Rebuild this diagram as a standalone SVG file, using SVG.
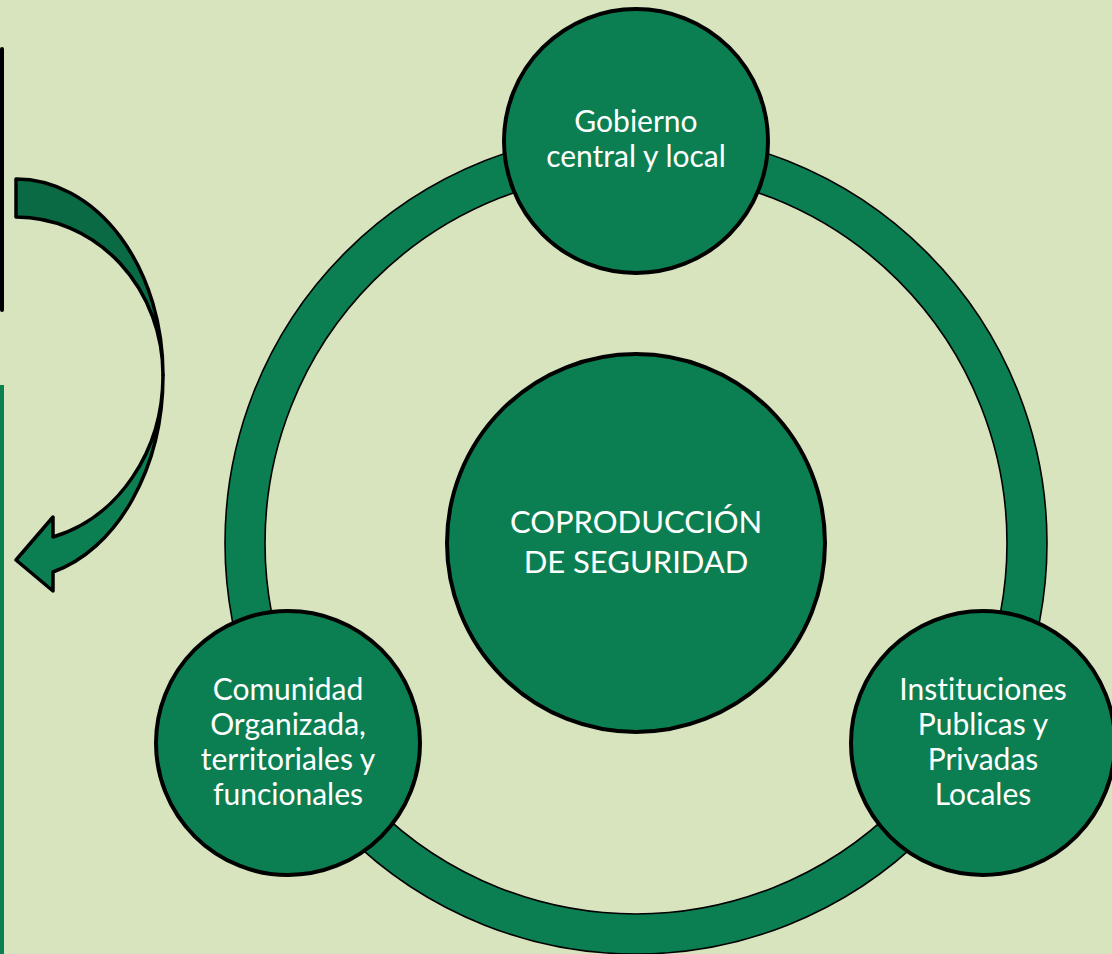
<svg xmlns="http://www.w3.org/2000/svg" width="1112" height="954" viewBox="0 0 1112 954">
<style>
.bg{fill:#D8E4BE;}
.node{fill:#0B7F51;stroke:#000;stroke-width:4;}
.ring{fill:#0B7F51;stroke:#000;stroke-width:1.6;fill-rule:evenodd;}
.lbl{font-family:Lato,"Noto Sans","Liberation Sans",sans-serif;fill:#FFFFFF;text-anchor:middle;font-size:30px;font-variant-ligatures:none;}
.big{font-size:31px;}
.arrow-front{fill:#0B7F51;stroke:#000;stroke-width:3.5;stroke-linejoin:round;}
.arrow-back{fill:#0A6A44;stroke:#000;stroke-width:3.5;stroke-linejoin:round;}
</style>
<rect class="bg" x="0" y="0" width="1112" height="954"/>
<g id="side-bars">
<rect x="0" y="47" width="4" height="265" rx="2" fill="#000"/>
<rect x="0" y="385" width="4" height="569" fill="#0B8050"/>
</g>
<g id="curved-arrow">
<path class="arrow-back" d="M16,179 A147,196 0 0 1 163,375 A147,158 0 0 0 16,217 Z"/>
<path class="arrow-front" d="M163,375 A147,203 0 0 1 53,572 L53,591 L16,560 L53,517 L53,537 A147,167 0 0 0 163,375 Z"/>
</g>
<g id="connectors">
<path class="ring" d="M636,132 A411,411 0 1 1 636,954 A411,411 0 1 1 636,132 Z M636,172 A371,371 0 1 0 636,914 A371,371 0 1 0 636,172 Z"/>
</g>
<g id="node-center">
<circle class="node" cx="636" cy="543" r="189"/>
<text class="lbl big" x="636" y="533">COPRODUCCIÓN</text>
<text class="lbl big" x="636" y="573">DE SEGURIDAD</text>
</g>
<g id="node-gobierno">
<circle class="node" cx="636" cy="141" r="132"/>
<text class="lbl" x="636" y="132">Gobierno</text>
<text class="lbl" x="636" y="167">central y local</text>
</g>
<g id="node-comunidad">
<circle class="node" cx="288" cy="743" r="132"/>
<text class="lbl" x="288" y="700">Comunidad</text>
<text class="lbl" x="288" y="735">Organizada,</text>
<text class="lbl" x="288" y="770">territoriales y</text>
<text class="lbl" x="288" y="805">funcionales</text>
</g>
<g id="node-instituciones">
<circle class="node" cx="983" cy="743" r="132"/>
<text class="lbl" x="983" y="700">Instituciones</text>
<text class="lbl" x="983" y="735">Publicas y</text>
<text class="lbl" x="983" y="770">Privadas</text>
<text class="lbl" x="983" y="805">Locales</text>
</g>
</svg>
